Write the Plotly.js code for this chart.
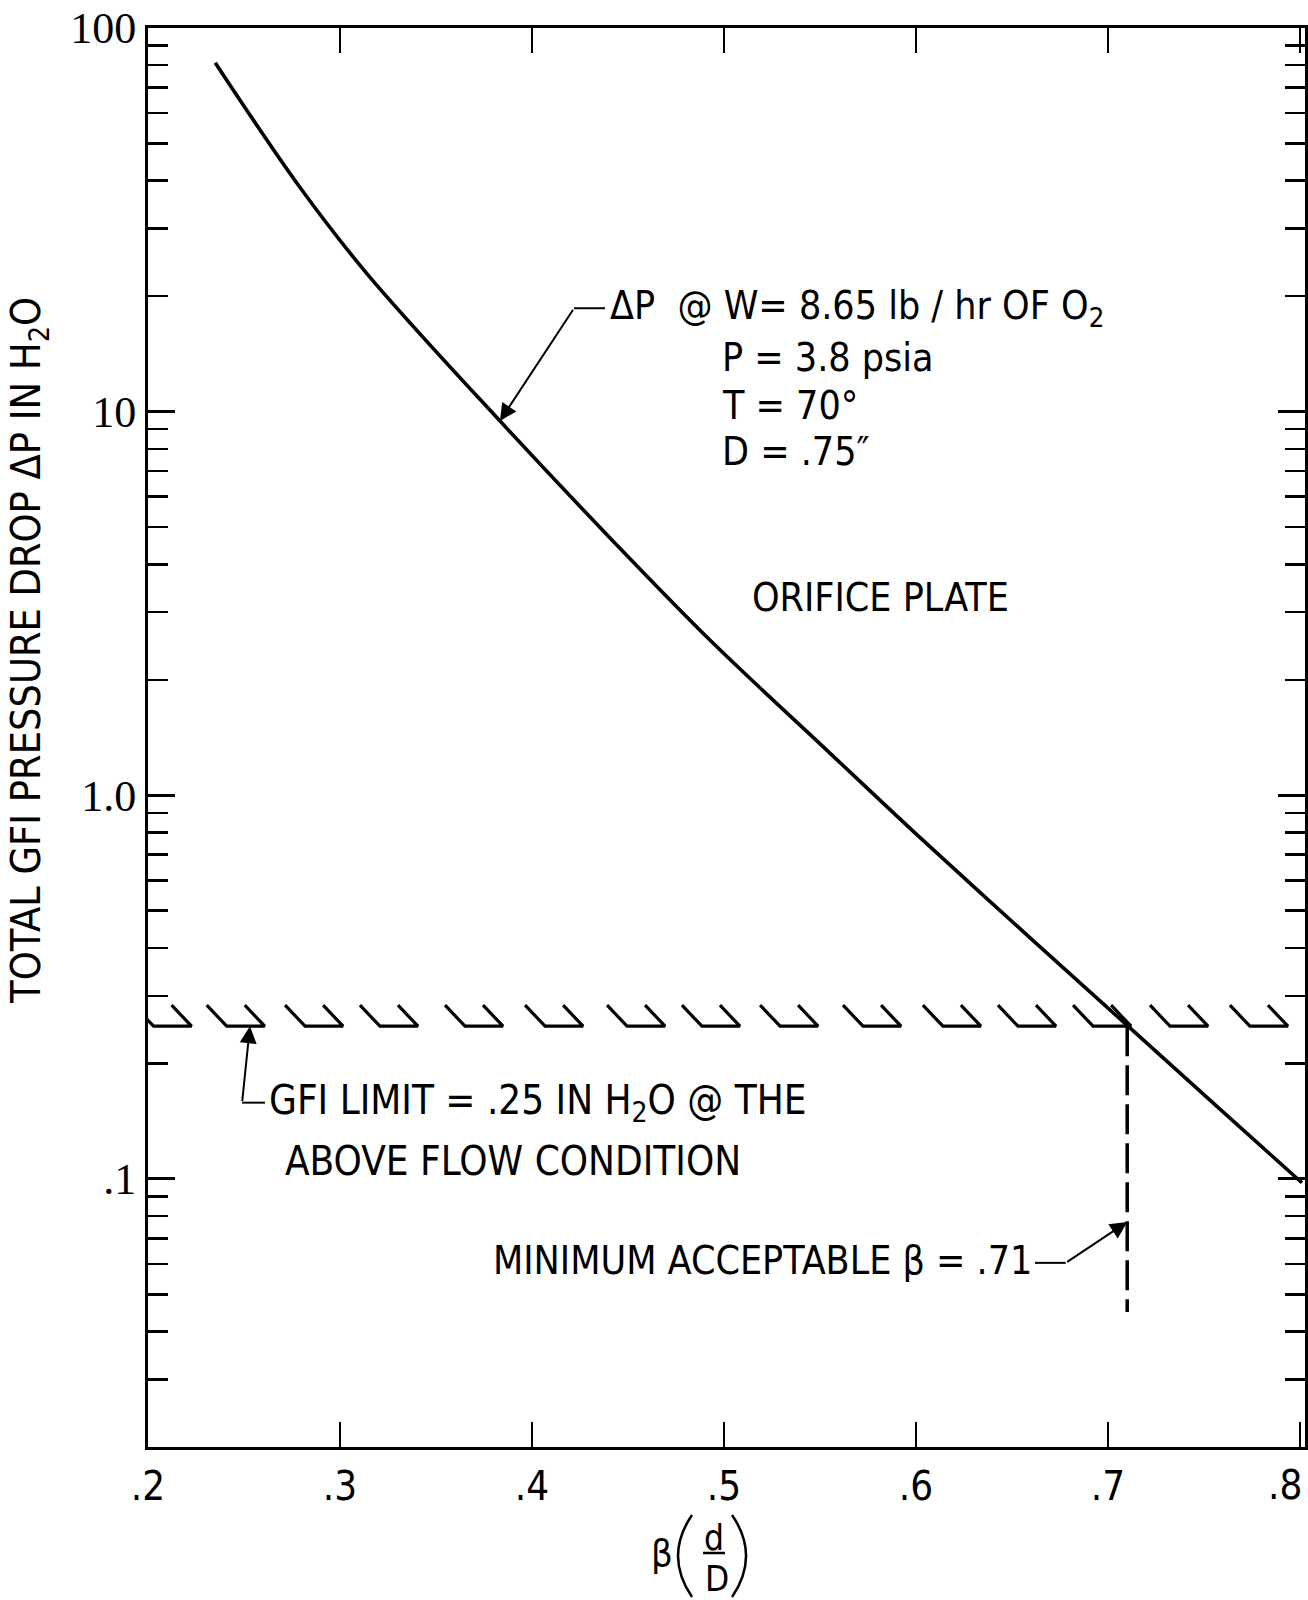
<!DOCTYPE html>
<html><head><meta charset="utf-8">
<script src="https://cdn.plot.ly/plotly-3.0.1.min.js"></script>
<style>body{margin:0;background:#fff}</style>
</head><body>
<div id="chart" style="width:1308px;height:1600px"></div>
<script>
// ---- data ----
const beta   = [0.235, 0.279, 0.314, 0.383, 0.442, 0.494, 0.555, 0.600, 0.661, 0.712, 0.757, 0.801];
const deltaP = [81.2, 38.5, 22.9, 9.49, 4.61, 2.50, 1.29, 0.793, 0.418, 0.246, 0.154, 0.0977];
const gfiLimit = 0.25;
const betaMin = 0.71;
const betaMinLineEnd = 0.045;
const hatchStarts = [0.1925, 0.2306, 0.2714, 0.3104, 0.3547, 0.3964, 0.4391, 0.4781, 0.5188, 0.5620, 0.6036, 0.6427, 0.6818, 0.7219, 0.7635];
const xTickVals = [0.2, 0.3, 0.4, 0.5, 0.6, 0.7, 0.8];
const xTickText = ['.2', '.3', '.4', '.5', '.6', '.7', '.8'];
const yTickVals = [0.1, 1, 10, 100];
const yTickText = ['.1', '1.0', '10', '100'];
const yMinorVals = [0.03,0.04,0.05,0.06,0.07,0.08,0.09, 0.2,0.3,0.4,0.5,0.6,0.7,0.8,0.9, 2,3,4,5,6,7,8,9, 20,30,40,50,60,70,80,90];

const L = Math.log10;
const FONT = 'DejaVu Sans Condensed, DejaVu Sans, sans-serif';
function curveAt(b) {
  for (let i = 0; i < beta.length - 1; i++) {
    if (b >= beta[i] && b <= beta[i+1]) {
      const t = (b - beta[i]) / (beta[i+1] - beta[i]);
      return Math.pow(10, L(deltaP[i]) + t * (L(deltaP[i+1]) - L(deltaP[i])));
    }
  }
  return deltaP[0];
}

// hatch marks along the GFI limit
const hTop = gfiLimit * 1.1345;
const hx = [], hy = [];
hatchStarts.forEach(s => {
  hx.push(s, s + 0.0104, s + 0.0302, s + 0.0198, null);
  hy.push(hTop, gfiLimit, gfiLimit, hTop, null);
});

const blk = '#000';
const traces = [
  {x: beta, y: deltaP, mode: 'lines', line: {color: blk, width: 3.6, shape: 'spline', smoothing: 1}, hoverinfo: 'skip'},
  {x: hx, y: hy, mode: 'lines', line: {color: blk, width: 3.2}, connectgaps: false, hoverinfo: 'skip'},
  {x: [betaMin, betaMin], y: [gfiLimit, betaMinLineEnd], mode: 'lines', line: {color: blk, width: 3.5, dash: '30px,9px'}, hoverinfo: 'skip'},
  // leader horizontal segments
  {x: [0.438, 0.4219], y: [18.6, 18.6], mode: 'lines', line: {color: blk, width: 2}, hoverinfo: 'skip'},
  {x: [0.2609, 0.249], y: [0.158, 0.158], mode: 'lines', line: {color: blk, width: 2}, hoverinfo: 'skip'},
  {x: [0.662, 0.678], y: [0.0604, 0.0604], mode: 'lines', line: {color: blk, width: 2}, hoverinfo: 'skip'}
];

function arrow(x, y, ax, ay) {
  return {x: x, y: L(y), ax: ax, ay: L(ay), xref: 'x', yref: 'y', axref: 'x', ayref: 'y',
    text: '', showarrow: true, arrowhead: 2, arrowsize: 1.7, arrowwidth: 2, arrowcolor: blk, standoff: 0, startstandoff: 0};
}
function label(x, y, text, size, anchor) {
  return {x: x, y: L(y), xref: 'x', yref: 'y', text: text, showarrow: false,
    xanchor: anchor || 'left', yanchor: 'middle', font: {family: FONT, size: size || 39, color: blk}};
}
function ptext(x, y, text, size, extra) {
  return Object.assign({x: x, y: y, xref: 'paper', yref: 'paper', text: text, showarrow: false,
    xanchor: 'center', yanchor: 'middle', font: {family: FONT, size: size, color: blk}}, extra || {});
}

const annotations = [
  arrow(0.3833, curveAt(0.3833), 0.4219, 18.6),
  arrow(0.2531, gfiLimit, 0.249, 0.158),
  arrow(betaMin, 0.0772, 0.678, 0.0604),
  label(0.4396, 18.6, 'ΔP\u00A0\u00A0@ W=\u00A08.65 lb / hr OF O<sub>2</sub>'),
  label(0.4979, 13.86, 'P = 3.8 psia'),
  label(0.4979, 10.38, 'T = 70°'),
  label(0.4979, 7.88, 'D = .75″'),
  label(0.5135, 3.28, 'ORIFICE PLATE'),
  label(0.262, 0.158, 'GFI LIMIT = .25 IN H<sub>2</sub>O @ THE', 40),
  label(0.2703, 0.1114, 'ABOVE FLOW CONDITION', 40),
  label(0.6615, 0.0611, 'MINIMUM ACCEPTABLE β = .71', 39, 'right'),
  // last x tick label, kept inside the page
  ptext(0.9995, -0.0268, xTickText[6], 40, {xanchor: 'right'}),
  // y-axis title
  ptext(-0.1029, 0.5617, 'TOTAL GFI PRESSURE DROP ΔP IN H<sub>2</sub>O', 41, {textangle: -90}),
  // x-axis title β(d/D)
  ptext(0.4443, -0.0747, 'β', 38),
  ptext(0.4892, -0.0641, 'd', 35),
  ptext(0.4918, -0.0930, 'D', 35)
];

const shapes = [
  {type: 'line', xref: 'paper', yref: 'paper', x0: 0.4797, x1: 0.4987, y0: -0.0747, y1: -0.0747, line: {color: blk, width: 2.5}},
  {type: 'path', xref: 'paper', yref: 'paper', path: 'M 0.4702 -0.0479 Q 0.4460 -0.0768 0.4702 -0.1057', line: {color: blk, width: 2.5}},
  {type: 'path', xref: 'paper', yref: 'paper', path: 'M 0.5048 -0.0479 Q 0.5290 -0.0768 0.5048 -0.1057', line: {color: blk, width: 2.5}}
];

const layout = {
  width: 1308, height: 1600,
  margin: {l: 148, r: 3, t: 28, b: 153},
  paper_bgcolor: '#fff', plot_bgcolor: '#fff',
  showlegend: false,
  xaxis: {
    range: [0.2, 0.8026], tickmode: 'array', tickvals: xTickVals, ticktext: xTickText.slice(0, 6).concat(['']),
    ticks: 'inside', ticklen: 25, tickwidth: 2.5, tickcolor: blk,
    showline: true, linecolor: blk, linewidth: 3, mirror: 'ticks',
    showgrid: false, zeroline: false, ticklabelstandoff: 2,
    tickfont: {family: FONT, size: 40, color: blk}
  },
  yaxis: {
    type: 'log', range: [L(0.02), 2], tickmode: 'array', tickvals: yTickVals, ticktext: yTickText,
    ticks: 'inside', ticklen: 27, tickwidth: 3, tickcolor: blk,
    minor: {tickmode: 'array', tickvals: yMinorVals, ticks: 'inside', ticklen: 20, tickwidth: 2.5, tickcolor: blk, showgrid: false},
    showline: true, linecolor: blk, linewidth: 3, mirror: 'ticks',
    showgrid: false, zeroline: false, ticklabelstandoff: 0,
    tickfont: {family: 'Liberation Serif, serif', size: 44, color: blk}
  },
  annotations: annotations,
  shapes: shapes
};

Plotly.newPlot('chart', traces, layout, {staticPlot: true});
</script>
</body></html>
